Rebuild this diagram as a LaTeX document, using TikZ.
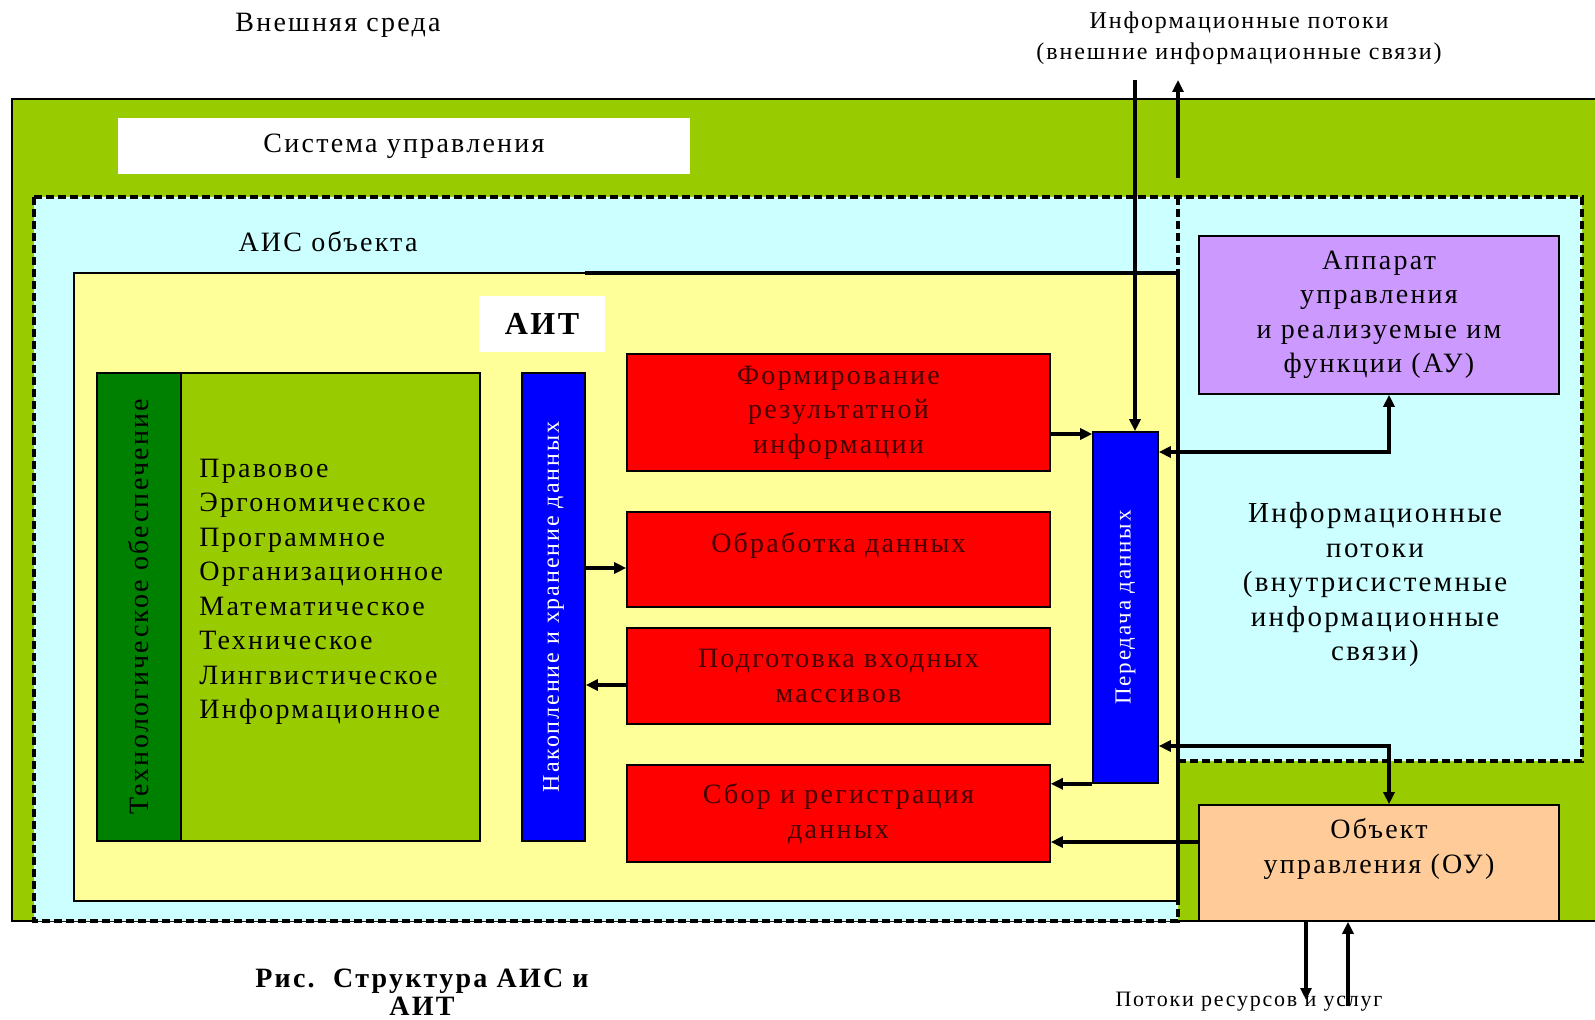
\documentclass[tikz,border=0pt]{standalone}
\usepackage{fontspec}
\setmainfont{Liberation Serif}[LetterSpace=8]
\usetikzlibrary{arrows.meta}
\definecolor{envgreen}{RGB}{153,204,0}
\definecolor{aiscyan}{RGB}{204,255,255}
\definecolor{aityellow}{RGB}{255,255,153}
\definecolor{techgreen}{RGB}{0,128,0}
\definecolor{dataBlue}{RGB}{0,0,255}
\definecolor{stepRed}{RGB}{255,0,0}
\definecolor{stepText}{RGB}{70,0,0}
\definecolor{mgmtViolet}{RGB}{204,153,255}
\definecolor{objPeach}{RGB}{255,204,153}
\tikzset{flow/.style={line width=2pt, -{Triangle[length=6pt,width=5.5pt]}}}
\tikzset{flows/.style={line width=2pt, {Triangle[length=6pt,width=5.5pt]}-{Triangle[length=6pt,width=5.5pt]}}}
\tikzset{border/.style={line width=2pt, dash pattern=on 4pt off 2pt}}
\tikzset{box/.style={draw, line width=0.8pt}}

\begin{document}
\begin{tikzpicture}[x=0.5pt, y=-0.5pt]
	% Default action for each node
	\tikzstyle{every node}=[inner sep=0pt, align=center, font=\fontsize{14}{17.25}\selectfont];
	\useasboundingbox (0,0) rectangle (1595,1020);

	% Containers
	\fill[white] (0,0) rectangle (1595,1020);
	\draw[fill=envgreen, line width=0.8pt] (12,99) rectangle (1600,921);
	\fill[aiscyan] (34,197) -- (1582,197) -- (1582,761) -- (1178,761) -- (1178,921) -- (34,921) -- cycle;
	\draw[border] (34,197) -- (1582,197) -- (1582,761) -- (1178,761) -- (1178,921) -- (34,921) -- cycle;
	\draw[border] (1178,197) -- (1178,273);
	\draw[fill=aityellow, line width=1pt] (74,273) rectangle (1178,901);
	\draw[line width=1.8pt] (585,273) -- (1178,273) -- (1178,901);

	% Titles
	\node (env) at (338,25) {Внешняя среда};
	\node[fill=white, minimum width=286pt, minimum height=28pt] (sys) at (404,146) {Система управления};
	\node (ais) at (328,242) {АИС объекта};
	\node[fill=white, minimum width=63pt, minimum height=28pt, font=\fontsize{16}{18}\selectfont\bfseries] (ait) at (542,324) {АИТ};
	\node[font=\fontsize{12}{15.5}\selectfont] (extflow) at (1239,38) {Информационные потоки\\(внешние информационные связи)};

	% LHS
	\node[box, fill=techgreen, minimum width=42pt, minimum height=234pt] (tech) at (139,607) {};
	\node[box, fill=envgreen, minimum width=149.5pt, minimum height=234pt] (kinds) at (330.5,607) {};
	\node[rotate=90] at (tech) {Технологическое обеспечение};
	\node[anchor=west, align=left, font=\fontsize{14}{17.25}\selectfont] at (199,592) {Правовое\\Эргономическое\\Программное\\Организационное\\Математическое\\Техническое\\Лингвистическое\\Информационное};

	\node[box, fill=dataBlue, minimum width=31.5pt, minimum height=234pt] (store) at (553.5,607) {};
	\node[rotate=90, text=white, font=\fontsize{12}{14}\selectfont] at (store) {Накопление и хранение данных};

	% MIDDLE
	\node[box, fill=stepRed, text=stepText, minimum width=211.5pt, minimum height=58.5pt] (form) at (838.5,412.5) {Формирование\\результатной\\информации};
	\node[box, fill=stepRed, text=stepText, minimum width=211.5pt, minimum height=47.5pt] (proc) at (838.5,559.5) {Обработка данных\\\phantom{x}};
	\node[box, fill=stepRed, text=stepText, minimum width=211.5pt, minimum height=48pt] (prep) at (838.5,676) {Подготовка входных\\массивов};
	\node[box, fill=stepRed, text=stepText, minimum width=211.5pt, minimum height=48.5pt] (coll) at (838.5,813.5) {Сбор и регистрация\\данных};

	\node[box, fill=dataBlue, minimum width=32.5pt, minimum height=175.5pt] (xfer) at (1125.5,607.5) {};
	\node[rotate=90, text=white, font=\fontsize{11.5}{14}\selectfont] at (xfer) {Передача данных};

	% RHS
	\node[box, fill=mgmtViolet, minimum width=180pt, minimum height=79pt] (mgmt) at (1379,315) {Аппарат\\управления\\и реализуемые им\\функции (АУ)};
	\node[font=\fontsize{14.5}{17.25}\selectfont] (intflow) at (1375,585) {Информационные\\потоки\\(внутрисистемные\\информационные\\связи)};
	\node[box, fill=objPeach, minimum width=180pt, minimum height=58pt] (obj) at (1379,863) {Объект\\управления (ОУ)\\\phantom{x}};

	% Bottom texts
	\node[font=\fontsize{11}{14}\selectfont] (res) at (1249,1002) {Потоки ресурсов и услуг};
	\node[font=\fontsize{14}{14}\selectfont\bfseries] (caption) at (422,992) {Рис.~~Структура АИС и\\АИТ};

	% Free ends
	\coordinate (ext in) at (1135,80);		\coordinate (ext out) at (1178,80);		\coordinate (ext out start) at (1178,178);
	\coordinate (res out) at (1306,1000);	\coordinate (res in) at (1348,1006);

	% Flows
	\draw[flow] (ext in) -- (ext in |- xfer.north);
	\draw[flow] (ext out start) -- (ext out);

	\draw[flow] (form.east |- 0,434) -- (xfer.west |- 0,434);
	\draw[flow] (store.east |- 0,568) -- (proc.west |- 0,568);
	\draw[flow] (prep.west |- 0,685) -- (store.east |- 0,685);
	\draw[flow] (xfer.south west) -- (coll.east |- xfer.south);
	\draw[flow] (obj.west |- 0,842) -- (coll.east |- 0,842);

	\draw[flows] (xfer.east |- 0,452) -| (mgmt.south -| 1389,0);
	\draw[flows] (xfer.east |- 0,746) -| (obj.north -| 1389,0);

	\draw[flow] (obj.south -| res out) -- (res out);
	\draw[flow] (res in) -- (obj.south -| res in);

\end{tikzpicture}
\end{document}
